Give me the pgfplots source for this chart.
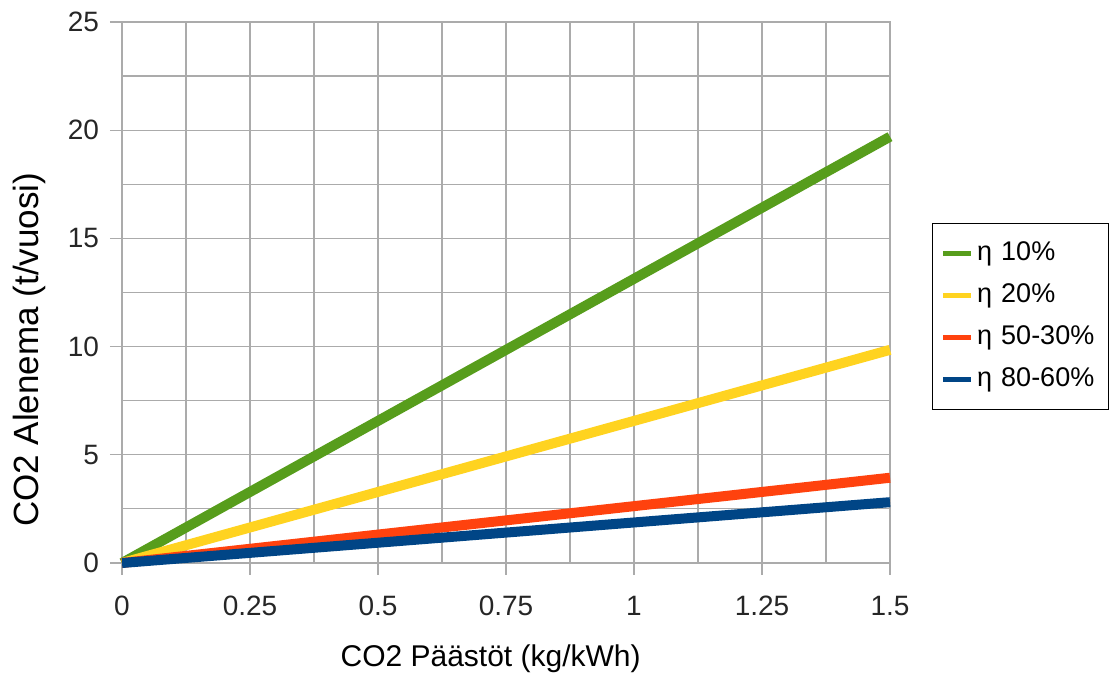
\documentclass[border=0pt]{standalone}
\usepackage{fontspec}
\setmainfont{Liberation Sans}
\usepackage{pgfplots}
\pgfplotsset{compat=1.18}

% LibreOffice default chart palette
\definecolor{lgreen}{HTML}{579D1C}
\definecolor{lyellow}{HTML}{FFD320}
\definecolor{lred}{HTML}{FF420E}
\definecolor{lblue}{HTML}{004586}
\definecolor{gridgray}{HTML}{ABABAB}

\begin{document}
\begin{tikzpicture}
\begin{axis}[
  scale only axis,
  width=384pt, height=270.5pt,
  xmin=0, xmax=1.5, ymin=0, ymax=25,
  xtick={0,0.25,0.5,0.75,1,1.25,1.5},
  ytick={0,5,10,15,20,25},
  minor x tick num=1, minor y tick num=1,
  grid=both,
  major grid style={gridgray, line width=0.6pt},
  minor grid style={gridgray, line width=0.6pt},
  axis line style={gridgray, line width=0.6pt},
  tick align=outside, tick pos=left,
  major tick length=6pt, minor tick length=0pt,
  every tick/.style={gridgray, line width=0.6pt},
  /pgf/number format/assume math mode=true,
  ticklabel style={font=\fontsize{14}{16}\selectfont, text=black!85},
  xticklabel style={yshift=-7pt},
  yticklabel style={xshift=-2pt},
  xlabel={CO2 Päästöt (kg/kWh)},
  ylabel={CO2 Alenema (t/vuosi)},
  every axis x label/.style={at={(axis description cs:0.48,-0.1774)}, anchor=center, font=\fontsize{15}{18}\selectfont},
  every axis y label/.style={at={(axis description cs:-0.1211,0.394)}, rotate=90, anchor=center, font=\fontsize{17.5}{20}\selectfont},
  clip=false,
  legend cell align=left,
  legend image code/.code={\draw[#1, line width=2.8pt] (0pt,0pt) -- (14pt,0pt);},
  legend style={at={(rel axis cs:1.0547,0.6285)}, anchor=north west,
    draw=black, line width=0.6pt, fill=white,
    font=\fontsize{13.5}{16}\selectfont,
    inner xsep=4pt, inner ysep=8.5pt, row sep=8pt,
    nodes={inner xsep=1.5pt, inner ysep=0pt, text height=10pt, text depth=3pt, text width=60pt, align=left}},
]
\addplot[lgreen, line width=5pt] coordinates {(0,0) (1.5,19.7)};
\addlegendentry{η 10\%}
\addplot[lyellow, line width=5pt] coordinates {(0,0) (1.5,9.85)};
\addlegendentry{η 20\%}
\addplot[lred, line width=5pt] coordinates {(0,0) (1.5,3.94)};
\addlegendentry{η 50-30\%}
\addplot[lblue, line width=5pt] coordinates {(0,0) (1.5,2.81)};
\addlegendentry{η 80-60\%}
\coordinate (SW) at (rel axis cs:0,0);
\coordinate (NE) at (rel axis cs:1,1);
\end{axis}
\pgfresetboundingbox
\path ([shift={(-61pt,-57pt)}]SW) rectangle ([shift={(110.5pt,11pt)}]NE);
\end{tikzpicture}
\end{document}
